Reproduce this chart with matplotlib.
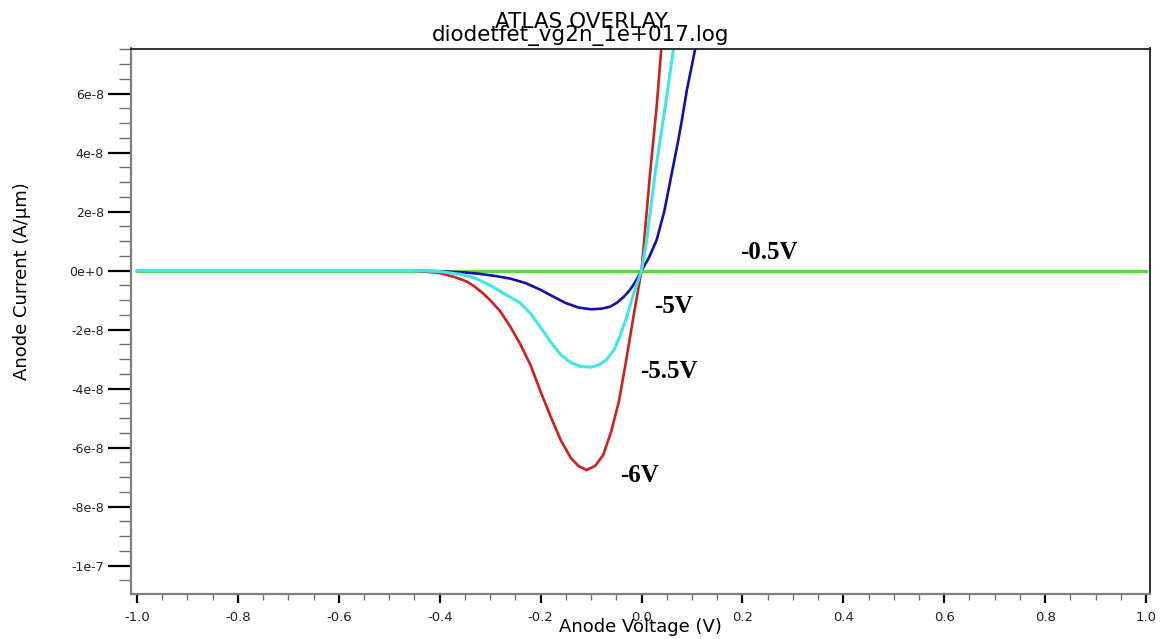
import matplotlib
matplotlib.use("Agg")
import matplotlib.pyplot as plt
from matplotlib.ticker import MultipleLocator

# -----------------------------
# Data (current in units of 1e-8 A/um)
# -----------------------------
green_v = [-1.0, 1.0]
green_i = [0.0, 0.0]

red_v = [-0.45, -0.40, -0.37, -0.346, -0.33, -0.314, -0.30, -0.28, -0.26, -0.24,
         -0.22, -0.20, -0.18, -0.16, -0.14, -0.125, -0.109, -0.092, -0.076,
         -0.06, -0.045, -0.03, -0.016, 0.0, 0.017, 0.030, 0.039, 0.045]
red_i = [0.0, -0.08, -0.22, -0.37, -0.55, -0.77, -1.0, -1.38, -1.9, -2.5,
         -3.2, -4.1, -4.95, -5.75, -6.35, -6.62, -6.76, -6.62, -6.25,
         -5.45, -4.45, -3.0, -1.56, 0.0, 3.3, 5.56, 7.48, 8.7]

cyan_v = [-1.0, -0.45, -0.40, -0.36, -0.33, -0.30, -0.27, -0.24, -0.22, -0.20,
          -0.18, -0.16, -0.14, -0.12, -0.10, -0.085, -0.07, -0.055, -0.043,
          -0.03, -0.016, 0.0, 0.0103, 0.027, 0.047, 0.063, 0.07]
cyan_i = [0.0, 0.0, -0.03, -0.12, -0.25, -0.5, -0.8, -1.1, -1.45, -1.92,
          -2.42, -2.85, -3.12, -3.25, -3.27, -3.2, -3.03, -2.7, -2.24,
          -1.6, -0.8, 0.0, 1.04, 3.3, 5.56, 7.48, 8.3]

blue_v = [-0.45, -0.40, -0.35, -0.32, -0.29, -0.26, -0.23, -0.20, -0.175, -0.15,
          -0.125, -0.10, -0.08, -0.062, -0.048, -0.036, -0.025, -0.016, -0.008,
          0.0, 0.015, 0.030, 0.045, 0.06, 0.073, 0.08, 0.090, 0.098, 0.106, 0.115]
blue_i = [0.0, -0.02, -0.06, -0.11, -0.18, -0.27, -0.42, -0.65, -0.88, -1.1,
          -1.25, -1.31, -1.29, -1.22, -1.08, -0.9, -0.7, -0.48, -0.25,
          0.0, 0.45, 1.04, 2.0, 3.3, 4.43, 5.1, 6.13, 6.8, 7.48, 8.3]

labels = ["-0.5V", "-5V", "-5.5V", "-6V"]
label_v = [0.195, 0.0245, -0.003, -0.043]
label_i = [0.6, -1.2, -3.43, -6.93]

xticks = [-1.0, -0.8, -0.6, -0.4, -0.2, 0.0, 0.2, 0.4, 0.6, 0.8, 1.0]
xticklabels = ["-1.0", "-0.8", "-0.6", "-0.4", "-0.2", "0.0", "0.2", "0.4", "0.6", "0.8", "1.0"]
yticks = [6, 4, 2, 0, -2, -4, -6, -8, -10]
yticklabels = ["6e-8", "4e-8", "2e-8", "0e+0", "-2e-8", "-4e-8", "-6e-8", "-8e-8", "-1e-7"]

scale = 1e-8

fig = plt.figure(figsize=(11.66, 6.39), dpi=100)
ax = fig.add_axes([131 / 1166, 1 - 594 / 639, (1150 - 131) / 1166, (594 - 48.5) / 639])

lw = 1.9
ax.plot(green_v, [v * scale for v in green_i], color="#52e036", lw=lw + 0.4)
ax.plot(red_v, [v * scale for v in red_i], color="#d01f1f", lw=lw)
ax.plot(blue_v, [v * scale for v in blue_i], color="#1010b0", lw=lw)
ax.plot(cyan_v, [v * scale for v in cyan_i], color="#3ee6e6", lw=lw + 0.3)

for txt, xv, yv in zip(labels, label_v, label_i):
    ax.text(xv, yv * scale, txt, ha="left", va="center", fontsize=18,
            fontweight="bold", family="Liberation Serif")

ax.set_xlim(-1.0119, 1.0079)
ax.set_ylim(-10.96 * scale, 7.53 * scale)

ax.set_xticks(xticks)
ax.set_xticklabels(xticklabels)
ax.set_yticks([v * scale for v in yticks])
ax.set_yticklabels(yticklabels)
ax.xaxis.set_minor_locator(MultipleLocator(0.05))
ax.yaxis.set_minor_locator(MultipleLocator(0.5 * scale))

ax.tick_params(axis="y", which="major", direction="out", length=16.5, width=1.6,
               color="black", labelsize=9, pad=3, labelcolor="#222222")
ax.tick_params(axis="y", which="minor", direction="out", length=8.6, width=1.0,
               color="#707070")
ax.tick_params(axis="x", which="major", direction="out", length=6.5, width=1.6,
               color="black", labelsize=9.5, pad=6, labelcolor="#222222")
ax.tick_params(axis="x", which="minor", direction="out", length=4, width=1.0,
               color="#707070")

for side in ["left", "bottom"]:
    ax.spines[side].set_color("#808080")
    ax.spines[side].set_linewidth(1.6)
for side in ["top", "right"]:
    ax.spines[side].set_color("#202020")
    ax.spines[side].set_linewidth(1.3)

fig.text(581 / 1166, 1 - 28 / 639, "ATLAS OVERLAY", ha="center", va="baseline", fontsize=15.5)
fig.text(581 / 1166, 1 - 41 / 639, "diodetfet_vg2n_1e+017.log", ha="center", va="baseline", fontsize=15.5)
fig.text(640 / 1166, 1 - 627 / 639, "Anode Voltage (V)", ha="center", va="center", fontsize=13)
fig.text(22 / 1166, 1 - 281 / 639, "Anode Current (A/\u03bcm)", ha="center", va="center",
         fontsize=13, rotation=90)

fig.savefig("out.png", dpi=100)
